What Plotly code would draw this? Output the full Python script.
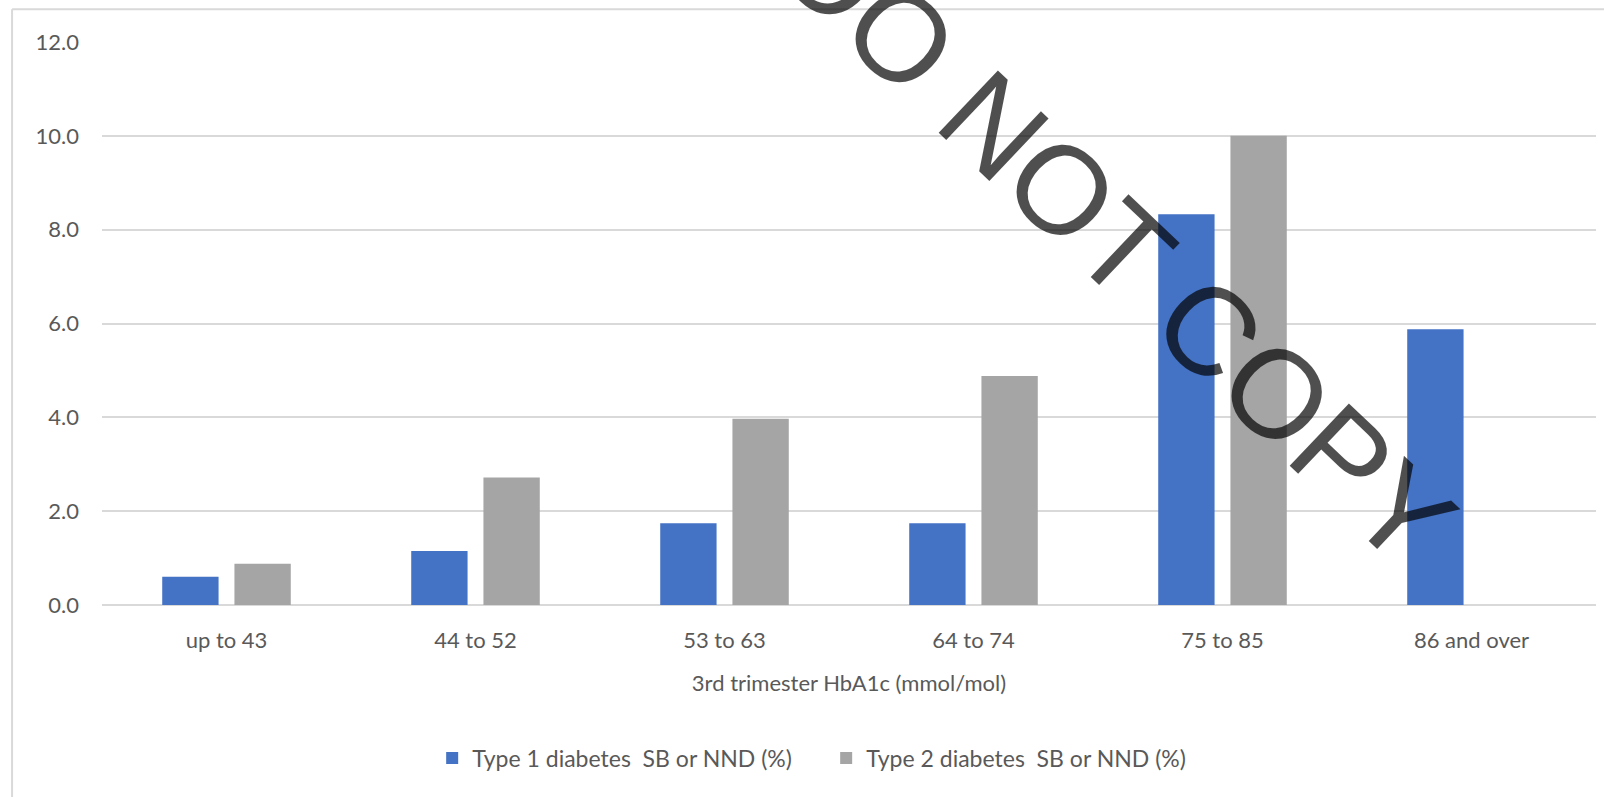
import plotly.graph_objects as go

# HbA1c bands (3rd trimester) and SB/NND rates (%)
categories = ["up to 43", "44 to 52", "53 to 63", "64 to 74", "75 to 85", "86 and over"]
type1_rate = [0.60, 1.15, 1.74, 1.74, 8.33, 5.88]
type2_rate = [0.88, 2.72, 3.97, 4.88, 10.0, None]
y_ticks = [0, 2, 4, 6, 8, 10, 12]

series_names = ["Type 1 diabetes  SB or NND (%)", "Type 2 diabetes  SB or NND (%)"]
series_colors = ["#4472C4", "#A5A5A5"]

TEXT = "#595959"
GRID = "#D9D9D9"
FONT = "Lato, 'Open Sans', sans-serif"

fig = go.Figure()
for name, vals, col in zip(series_names, [type1_rate, type2_rate], series_colors):
    fig.add_trace(go.Bar(
        x=categories, y=vals, name=name,
        marker=dict(color=col, line=dict(width=0)),
        hoverinfo="x+y+name",
    ))

fig.update_layout(
    width=1604, height=797,
    margin=dict(l=102, r=8, t=42, b=192),
    paper_bgcolor="white", plot_bgcolor="white",
    font=dict(family=FONT, size=22, color=TEXT),
    barmode="group", bargap=0.42, bargroupgap=0.22,
    showlegend=True,
    legend=dict(
        orientation="h", x=0.221, xanchor="left", y=-0.272, yanchor="middle",
        font=dict(size=23, color=TEXT), itemwidth=30, traceorder="normal",
        entrywidth=349, entrywidthmode="pixels",
        bgcolor="rgba(0,0,0,0)",
    ),
    xaxis=dict(
        showgrid=False, showline=False, zeroline=False,
        ticks="", tickfont=dict(size=22, color=TEXT),
        ticklabelstandoff=20,
        title=dict(text="3rd trimester HbA1c (mmol/mol)", font=dict(size=22, color=TEXT), standoff=23),
    ),
    yaxis=dict(
        range=[0, 12], tickvals=y_ticks, tickformat=".1f",
        showgrid=True, gridcolor=GRID, gridwidth=2,
        zeroline=True, zerolinecolor=GRID, zerolinewidth=2,
        showline=False, ticks="", ticklabelstandoff=22,
        tickfont=dict(size=22, color=TEXT),
    ),
    shapes=[
        # chart frame (top and left edges)
        dict(type="line", xref="paper", yref="paper", x0=-0.0602, x1=1.2, y0=1.058, y1=1.058,
             line=dict(color=GRID, width=2), layer="below"),
        dict(type="line", xref="paper", yref="paper", x0=-0.0602, x1=-0.0602, y0=1.058, y1=-0.5,
             line=dict(color=GRID, width=2), layer="below"),
    ],
    annotations=[
        dict(text="DO NOT COPY", xref="paper", yref="paper", x=0.679, y=0.645,
             xanchor="center", yanchor="middle", showarrow=False, textangle=43.5,
             font=dict(family="Liberation Sans, Arial, sans-serif", size=125, color="rgba(0,0,0,0.69)")),
    ],
)

fig.write_html("out.html")
